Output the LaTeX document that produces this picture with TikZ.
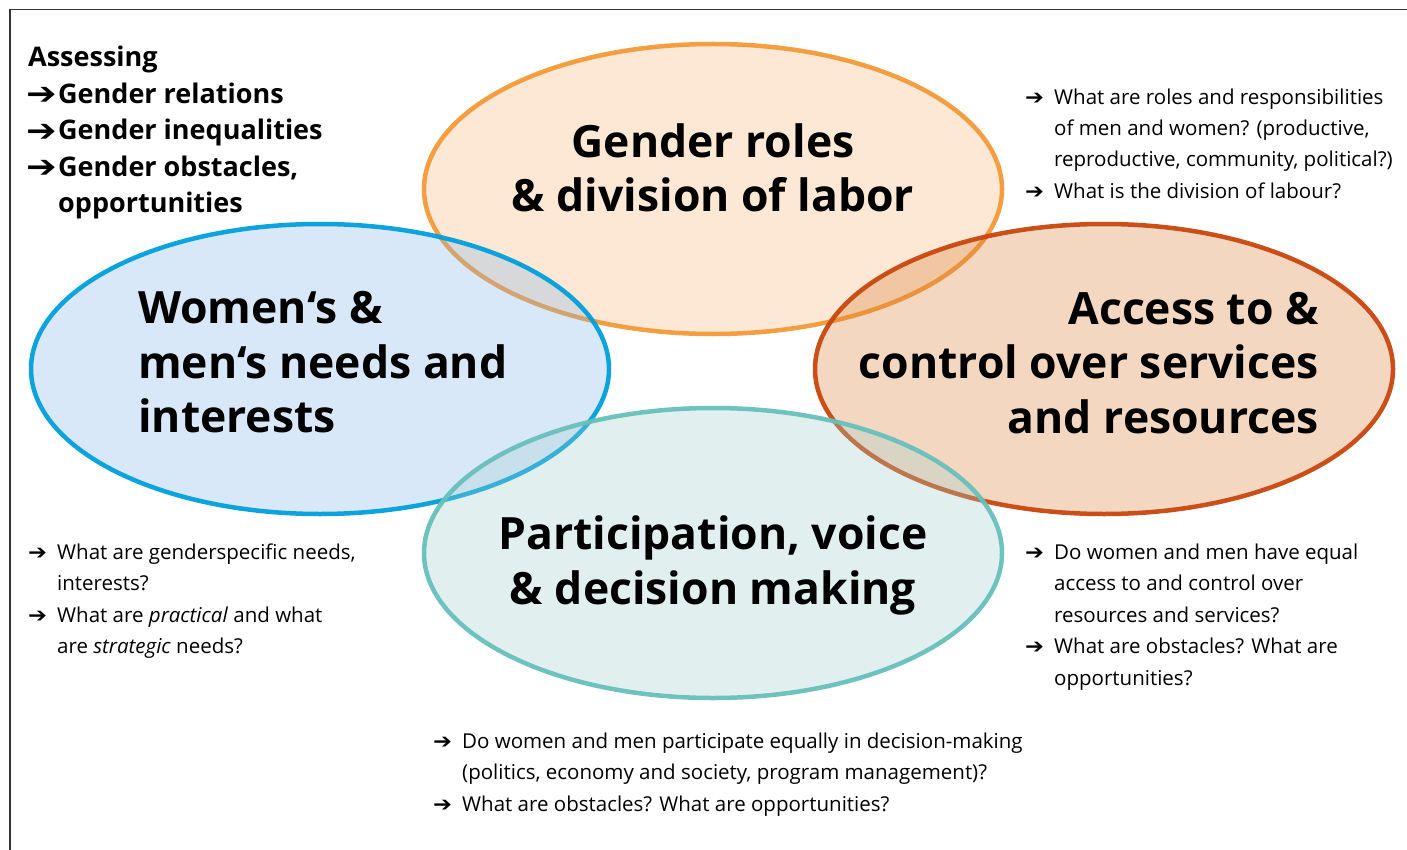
\documentclass[tikz,border=0pt]{standalone}
\usepackage{fontspec}
\setmainfont{Open Sans}
\newfontfamily\arrowfont{DejaVu Sans}
\usetikzlibrary{shapes.geometric}

% outline and fill colours of the four topic bubbles
\definecolor{rolesline}{HTML}{F39A38}
\definecolor{rolesfill}{RGB}{248,182,115}
\definecolor{needsline}{HTML}{00A0DC}
\definecolor{needsfill}{RGB}{132,182,232}
\definecolor{accessline}{HTML}{C8470E}
\definecolor{accessfill}{RGB}{218,125,52}
\definecolor{voiceline}{HTML}{68C0BC}
\definecolor{voicefill}{RGB}{158,208,205}
\definecolor{framecol}{HTML}{333333}

\newcommand\headfont{\fontsize{44.5}{54.5}\selectfont\bfseries}
\newcommand\assessfont{\fontsize{27}{36.5}\selectfont\bfseries}
\newcommand\qfont{\fontsize{20.5}{31.4}\selectfont}
\newcommand\bigarrow{\makebox[30pt][l]{\hspace*{-2pt}\raisebox{-1.2pt}{\scalebox{1.35}[1.15]{\arrowfont\bfseries ➔}}}}
\newcommand\qarrow{\makebox[27pt][l]{\hspace*{-2pt}\scalebox{1.1}[1]{\arrowfont ➔}}}
\newcommand\qindent{\hspace*{27pt}}

\begin{document}
\begin{tikzpicture}[x=1pt,y=-1pt,
  bubble/.style={ellipse, line width=4.5pt, minimum width=578pt, minimum height=290pt,
    inner sep=0pt, fill opacity=0.3, draw opacity=0.95},
  headline/.style={font=\headfont, inner sep=0pt, anchor=base},
  question/.style={font=\qfont, inner sep=0pt, anchor=base west, align=left}]
\useasboundingbox (0,0) rectangle (1407,850);
\fill[white] (0,0) rectangle (1407,850);

% frame
\draw[framecol, line width=1.5pt] (10,850) |- (1407,9.5);

% topic bubbles
\node[bubble, draw=rolesline, fill=rolesfill] (roles) at (713,189) {};
\node[bubble, draw=accessline, fill=accessfill] (access) at (1104,369) {};
\node[bubble, draw=needsline, fill=needsfill] (needs) at (320,369) {};
\node[bubble, draw=voiceline, fill=voicefill] (voice) at (713,553) {};

% bubble titles (each placed by the baseline of its last line)
\node[headline, align=center] (rolestext) at (713,211.7) {Gender roles\\\& division of labor};
\node[headline, align=left, anchor=base west] (needstext) at (138,432.5)
  {Women‘s \&\\men‘s needs and\\interests};
\node[headline, align=right, anchor=base east] (accesstext) at (1319,433)
  {Access to \&\\control over services\\and resources};
\node[headline, align=center] (voicetext) at (713,604) {Participation, voice\\\& decision making};

% overview
\node[font=\assessfont, inner sep=0pt, anchor=base west, align=left] (assess) at (28,213)
  {Assessing\\\bigarrow Gender relations\\\bigarrow Gender inequalities\\
   \bigarrow Gender obstacles,\\\hspace*{30pt}opportunities};

% guiding questions
\node[question] (qroles) at (1027,198.4)
  {\qarrow What are roles and responsibilities\\
   \qindent of men and women? (productive,\\
   \qindent reproductive, community, political?)\\
   \qarrow What is the division of labour?};
\node[question] (qneeds) at (30,653.7)
  {\qarrow What are genderspecific needs,\\
   \qindent interests?\\
   \qarrow What are \textit{practical} and what\\
   \qindent are \textit{strategic} needs?};
\node[question] (qaccess) at (1027,685.1)
  {\qarrow Do women and men have equal\\
   \qindent access to and control over\\
   \qindent resources and services?\\
   \qarrow What are obstacles? What are\\
   \qindent opportunities?};
\node[question] (qvoice) at (435,811.3)
  {\qarrow Do women and men participate equally in decision-making\\
   \qindent (politics, economy and society, program management)?\\
   \qarrow What are obstacles? What are opportunities?};
\end{tikzpicture}
\end{document}
